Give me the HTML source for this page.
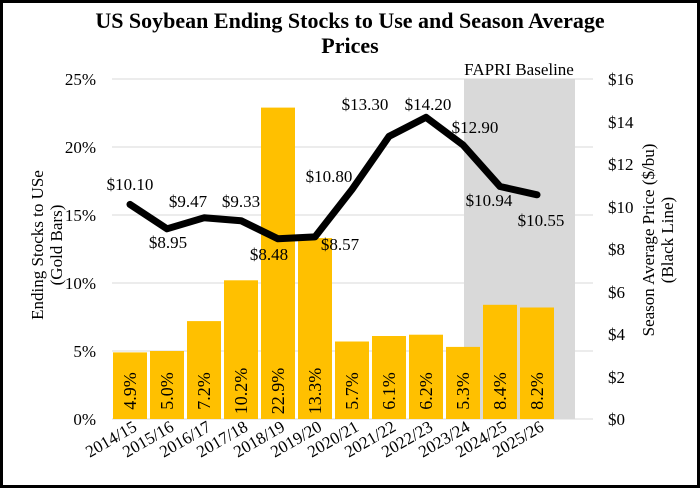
<!DOCTYPE html>
<html><head><meta charset="utf-8"><style>
body{margin:0;background:#fff}
svg{display:block;font-family:"Liberation Serif",serif}
</style></head><body>
<svg width="700" height="488" viewBox="0 0 700 488">
<rect x="1.5" y="1.5" width="697" height="485" fill="#fff" stroke="#000" stroke-width="3"/>
<text x="350" y="28" text-anchor="middle" font-weight="bold" font-size="22">US Soybean Ending Stocks to Use and Season Average</text>
<text x="350" y="53" text-anchor="middle" font-weight="bold" font-size="22">Prices</text>
<rect x="464" y="79" width="111" height="340" fill="#d9d9d9"/>
<g stroke="#d9d9d9" stroke-width="1">
<line x1="112" y1="79" x2="593" y2="79"/><line x1="112" y1="147" x2="593" y2="147"/>
<line x1="112" y1="215" x2="593" y2="215"/><line x1="112" y1="283" x2="593" y2="283"/>
<line x1="112" y1="351" x2="593" y2="351"/><line x1="112" y1="419" x2="593" y2="419"/>
</g>
<text x="519" y="75" text-anchor="middle" font-size="17">FAPRI Baseline</text>
<g fill="#ffc000">
<rect x="113" y="352.4" width="34" height="66.6"/>
<rect x="150" y="351" width="34" height="68"/>
<rect x="187" y="321.1" width="34" height="97.9"/>
<rect x="224" y="280.3" width="34" height="138.7"/>
<rect x="261" y="107.6" width="34" height="311.4"/>
<rect x="298" y="238.1" width="34" height="180.9"/>
<rect x="335" y="341.5" width="34" height="77.5"/>
<rect x="372" y="336" width="34" height="83"/>
<rect x="409" y="334.7" width="34" height="84.3"/>
<rect x="446" y="346.9" width="34" height="72.1"/>
<rect x="483" y="304.8" width="34" height="114.2"/>
<rect x="520" y="307.5" width="34" height="111.5"/>
</g>
<g font-size="18" text-anchor="middle">
<text transform="translate(136,391) rotate(-90)">4.9%</text>
<text transform="translate(173,391) rotate(-90)">5.0%</text>
<text transform="translate(210,391) rotate(-90)">7.2%</text>
<text transform="translate(247,391) rotate(-90)">10.2%</text>
<text transform="translate(284,391) rotate(-90)">22.9%</text>
<text transform="translate(321,391) rotate(-90)">13.3%</text>
<text transform="translate(358,391) rotate(-90)">5.7%</text>
<text transform="translate(395,391) rotate(-90)">6.1%</text>
<text transform="translate(432,391) rotate(-90)">6.2%</text>
<text transform="translate(469,391) rotate(-90)">5.3%</text>
<text transform="translate(506,391) rotate(-90)">8.4%</text>
<text transform="translate(543,391) rotate(-90)">8.2%</text>
</g>
<polyline fill="none" stroke="#000" stroke-width="7" stroke-linejoin="round" stroke-linecap="round"
points="130,204.4 167,228.8 204,217.8 241,220.7 278,238.8 315,236.9 352,189.5 389,136.4 426,117.3 463,144.9 500,186.5 537,194.8"/>
<g font-size="17" text-anchor="middle">
<text x="130" y="190">$10.10</text>
<text x="168" y="248">$8.95</text>
<text x="188" y="207">$9.47</text>
<text x="241" y="207">$9.33</text>
<text x="269" y="260">$8.48</text>
<text x="329" y="182">$10.80</text>
<text x="340" y="250">$8.57</text>
<text x="365" y="110">$13.30</text>
<text x="428" y="110">$14.20</text>
<text x="475" y="133">$12.90</text>
<text x="489" y="206">$10.94</text>
<text x="541" y="226">$10.55</text>
</g>
<g font-size="17" text-anchor="end">
<text x="96" y="85">25%</text><text x="96" y="153">20%</text><text x="96" y="221">15%</text>
<text x="96" y="289">10%</text><text x="96" y="357">5%</text><text x="96" y="425">0%</text>
</g>
<g font-size="17" text-anchor="start">
<text x="608" y="85">$16</text><text x="608" y="128">$14</text><text x="608" y="170">$12</text>
<text x="608" y="213">$10</text><text x="608" y="255">$8</text><text x="608" y="298">$6</text>
<text x="608" y="340">$4</text><text x="608" y="383">$2</text><text x="608" y="425">$0</text>
</g>
<g font-size="17" text-anchor="middle">
<text transform="translate(43,245) rotate(-90)">Ending Stocks to USe</text>
<text transform="translate(62,245) rotate(-90)">(Gold Bars)</text>
<text transform="translate(654,240) rotate(-90)">Season Average Price ($/bu)</text>
<text transform="translate(673,240) rotate(-90)">(Black Line)</text>
</g>
<g font-size="17" text-anchor="end">
<text transform="translate(138,430) rotate(-30)">2014/15</text>
<text transform="translate(175,430) rotate(-30)">2015/16</text>
<text transform="translate(212,430) rotate(-30)">2016/17</text>
<text transform="translate(249,430) rotate(-30)">2017/18</text>
<text transform="translate(286,430) rotate(-30)">2018/19</text>
<text transform="translate(323,430) rotate(-30)">2019/20</text>
<text transform="translate(360,430) rotate(-30)">2020/21</text>
<text transform="translate(397,430) rotate(-30)">2021/22</text>
<text transform="translate(434,430) rotate(-30)">2022/23</text>
<text transform="translate(471,430) rotate(-30)">2023/24</text>
<text transform="translate(508,430) rotate(-30)">2024/25</text>
<text transform="translate(545,430) rotate(-30)">2025/26</text>
</g>
</svg>
</body></html>
